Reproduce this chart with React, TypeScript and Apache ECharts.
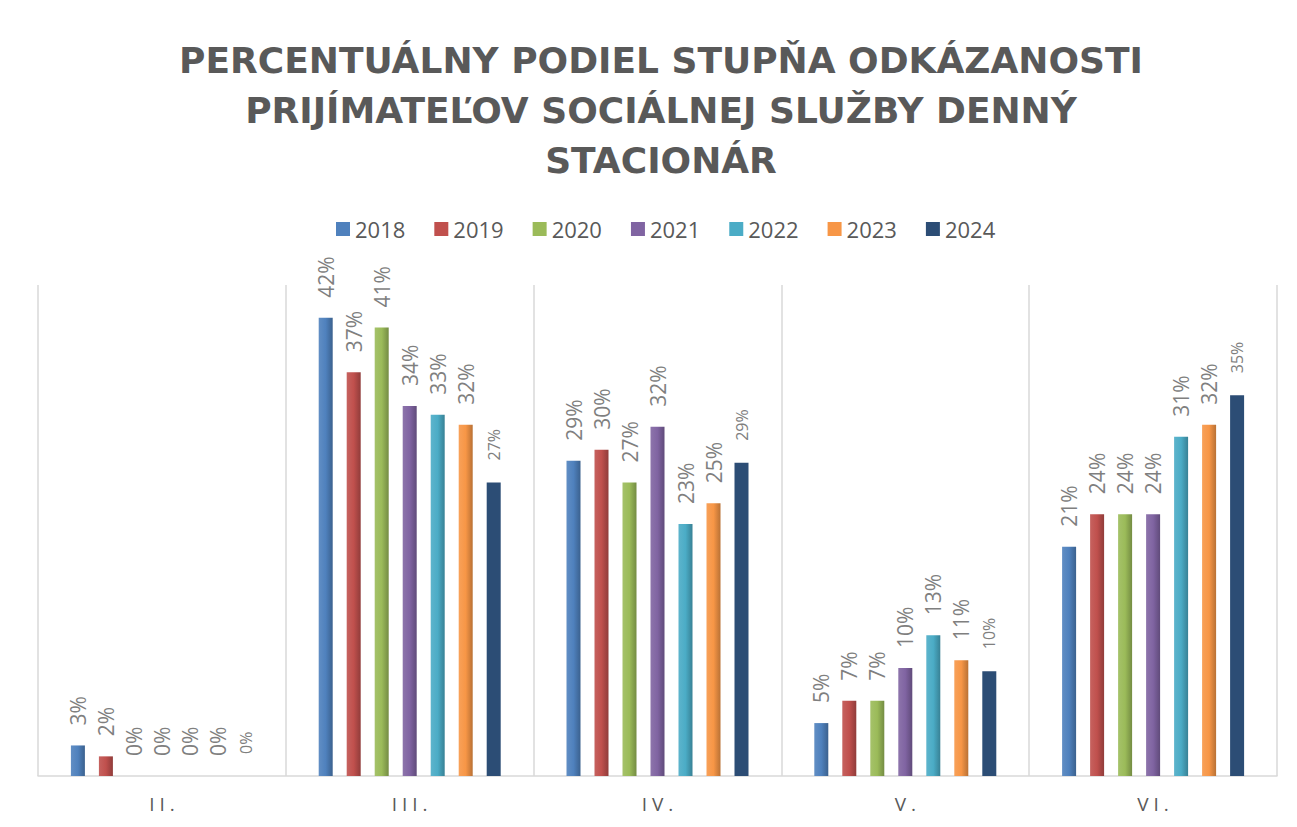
import React, { useEffect, useRef } from "react";
import * as echarts from "echarts";

const categories = ["II.", "III.", "IV.", "V.", "VI."];
const years = ["2018", "2019", "2020", "2021", "2022", "2023", "2024"];
const v2018 = [0.028, 0.42, 0.289, 0.0485, 0.21];
const v2019 = [0.018, 0.37, 0.299, 0.069, 0.24];
const v2020 = [0, 0.411, 0.269, 0.069, 0.24];
const v2021 = [0, 0.339, 0.32, 0.099, 0.24];
const v2022 = [0, 0.331, 0.231, 0.129, 0.311];
const v2023 = [0, 0.322, 0.25, 0.106, 0.322];
const v2024 = [0, 0.269, 0.287, 0.096, 0.349];
const seriesValues = [v2018, v2019, v2020, v2021, v2022, v2023, v2024];
const colors = ["#4F81BD", "#C0504D", "#9BBB59", "#8064A2", "#4BACC6", "#F79646", "#2C4D75"];
const titleLines = [
  "PERCENTUÁLNY PODIEL STUPŇA ODKÁZANOSTI",
  "PRIJÍMATEĽOV SOCIÁLNEJ SLUŽBY DENNÝ",
  "STACIONÁR",
];

function shade(hex: string, f: number) {
  const n = parseInt(hex.slice(1), 16);
  const r = (n >> 16) & 255, g = (n >> 8) & 255, b = n & 255;
  const adj = (c: number) => Math.max(0, Math.min(255, Math.round(f > 0 ? c + (255 - c) * f : c * (1 + f))));
  return `rgb(${adj(r)},${adj(g)},${adj(b)})`;
}

export default function App() {
  const ref = useRef<HTMLDivElement>(null);
  useEffect(() => {
    document.body.style.margin = "0";
    const chart = echarts.init(ref.current!, null, { renderer: "svg" });
    const font = "'Open Sans', 'Noto Sans', sans-serif";
    chart.setOption({
      animation: false,
      backgroundColor: "#ffffff",
      title: {
        text: titleLines.join("\n"),
        left: 656,
        textAlign: "center",
        top: 30,
        textStyle: {
          fontFamily: "'DejaVu Sans', sans-serif",
          fontSize: 36,
          fontWeight: "bold",
          color: "#595959",
          lineHeight: 50,
        },
      },
      legend: {
        top: 213,
        left: 331,
        itemWidth: 14,
        itemHeight: 14,
        itemGap: 29,
        icon: "path://M0,0L10,0L10,10L0,10Z",
        textStyle: { fontFamily: font, fontSize: 22, color: "#595959" },
        data: years.map((y, i) => ({ name: y, itemStyle: { color: colors[i] } })),
      },
      grid: { left: 38, right: 20, top: 285, bottom: 51 },
      xAxis: {
        type: "category",
        data: categories,
        axisLine: { lineStyle: { color: "#D9D9D9", width: 1.5 } },
        axisTick: { show: false },
        splitLine: { show: true, lineStyle: { color: "#D9D9D9", width: 1.5 } },
        axisLabel: {
          fontFamily: font,
          fontSize: 19,
          color: "#595959",
          margin: 18,
          formatter: (s: string) => s.split("").join(" "),
        },
      },
      yAxis: {
        type: "value",
        min: 0,
        max: 0.45,
        show: false,
        splitLine: { show: false },
      },
      series: years.map((y, i) => ({
        name: y,
        type: "bar",
        data: seriesValues[i],
        barWidth: 14,
        barGap: "100%",
        itemStyle: {
          color: i === 6
            ? colors[i]
            : new echarts.graphic.LinearGradient(0, 0, 1, 0, [
                { offset: 0, color: shade(colors[i], 0.1) },
                { offset: 0.5, color: colors[i] },
                { offset: 1, color: shade(colors[i], -0.25) },
              ]),
        },
        label: {
          show: true,
          position: "top",
          rotate: 90,
          align: "left",
          verticalAlign: "middle",
          distance: i === 6 ? 22 : 20,
          fontFamily: font,
          fontSize: i === 6 ? 16 : 21,
          color: "#7F7F7F",
          formatter: (p: any) => Math.round(p.value * 100) + "%",
        },
      })),
    });
    return () => chart.dispose();
  }, []);
  return <div ref={ref} style={{ width: 1297, height: 827 }} />;
}
